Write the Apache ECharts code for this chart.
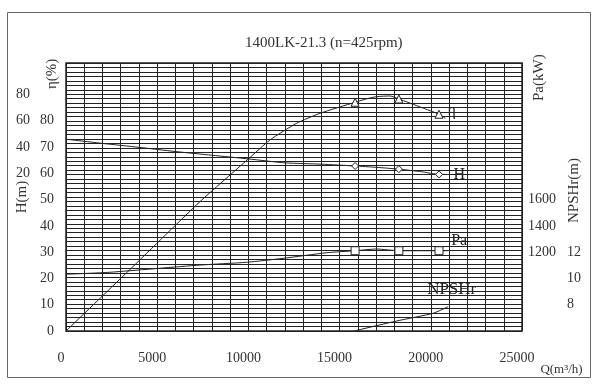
<!DOCTYPE html>
<html><head><meta charset="utf-8">
<script src="https://cdn.jsdelivr.net/npm/echarts@6/dist/echarts.min.js"></script>
<style>html,body{margin:0;padding:0;background:#fff}#c{width:600px;height:386px}</style>
</head><body><div id="c"></div>
<script>
// ---- data ----
const chartTitle = '1400LK-21.3 (n=425rpm)';
const markerQ = [15850, 18250, 20450];

const headQ = [0, 2000, 4000, 6000, 8000, 10000, 12000, 14000, 15850, 17000, 18250, 19500, 20450, 20800];
const headH = [73, 71.4, 69.9, 68.3, 66.9, 65.5, 64.0, 63.5, 62.8, 62.3, 61.6, 60.6, 59.6, 59.6];

const effQ = [0, 3670, 7340, 10000, 11180, 12640, 13920, 15850, 16500, 17030, 17760, 18250, 19500, 20450, 20800];
const effV = [-100, -51, -1.6, 31, 45.4, 58.1, 65.7, 74.1, 76.8, 78.4, 78.9, 76.6, 70.1, 65.0, 61.9];

const powQ = [0, 2400, 7340, 9900, 11900, 14300, 15850, 17030, 18250, 20450, 20900];
const powV = [1032, 1047, 1102, 1123, 1153, 1196, 1211, 1224, 1211, 1211, 1211];

const npshQ = [15850, 18120, 20130, 20950];
const npshV = [6.02, 6.76, 7.35, 7.85];

const hLabels = [0, 10, 20, 30, 40, 50, 60, 70, 80];
const etaLabels = [20, 40, 60, 80];
const paLabels = [1200, 1400, 1600];
const npLabels = [8, 10, 12];

// ---- chart ----
const FONT = 'Liberation Serif';
const INK = '#222';
const zip = (a, b) => a.map((q, i) => [q, b[i]]);
const pick = (list) => (v) => (list.indexOf(Math.round(v)) >= 0 ? String(Math.round(v)) : '');
const markSym = (shape) => (val) => (markerQ.indexOf(val[0]) >= 0 ? shape : 'none');

const chart = echarts.init(document.getElementById('c'), null, { renderer: 'canvas' });
const lbl = { fontFamily: FONT, fontSize: 14, color: '#333' };

chart.setOption({
  animation: false,
  backgroundColor: '#fff',
  title: {
    text: chartTitle, left: 240, top: 31,
    textStyle: { fontFamily: FONT, fontSize: 15, fontWeight: 'normal', color: '#333' }
  },
  grid: {
    left: 66, top: 63, right: 78, bottom: 55, containLabel: false, outerBoundsMode: 'none',
    show: true, borderColor: INK, borderWidth: 1.5, backgroundColor: 'transparent'
  },
  graphic: [
    { type: 'rect', shape: { x: 7.5, y: 12.5, width: 583, height: 365 }, style: { fill: 'none', stroke: '#666', lineWidth: 1 }, silent: true },
    { type: 'text', x: 45, y: 89, rotation: Math.PI / 2, style: { text: 'η(%)', font: '15px ' + FONT, fill: '#333' } },
    { type: 'text', x: 532, y: 101, rotation: Math.PI / 2, style: { text: 'Pa(kW)', font: '15px ' + FONT, fill: '#333' } },
    { type: 'text', x: 567, y: 223, rotation: Math.PI / 2, style: { text: 'NPSHr(m)', font: '15px ' + FONT, fill: '#333' } }
  ],
  xAxis: {
    type: 'value', min: 0, max: 25000, interval: 5000,
    axisLine: { show: false }, axisTick: { show: false },
    axisLabel: Object.assign({ margin: 20, padding: [0, 10, 0, 0], formatter: (v) => String(v) }, lbl),
    splitLine: { show: true, lineStyle: { color: INK, width: 1 } },
    minorTick: { show: false, splitNumber: 5 },
    minorSplitLine: { show: true, lineStyle: { color: INK, width: 1 } },
    name: 'Q(m³/h)', nameLocation: 'end', nameGap: 14,
    nameTextStyle: { fontFamily: FONT, fontSize: 13, color: '#333', verticalAlign: 'top', padding: [32, 0, 0, 0] }
  },
  yAxis: [
    { // H (m)
      type: 'value', min: 0, max: 102, interval: 10, position: 'left',
      axisLine: { show: false }, axisTick: { show: false }, splitLine: { show: false },
      axisLabel: Object.assign({ margin: 12, formatter: pick(hLabels), showMaxLabel: false }, lbl),
      name: 'H(m)', nameLocation: 'middle', nameGap: 36, nameRotate: 90,
      nameTextStyle: { fontFamily: FONT, fontSize: 15, color: '#333' }
    },
    { // eta (%)
      type: 'value', min: -100, max: 104, interval: 20, position: 'left',
      axisLine: { show: false }, axisTick: { show: false }, splitLine: { show: false },
      axisLabel: Object.assign({ margin: 36, formatter: pick(etaLabels), showMaxLabel: false }, lbl)
    },
    { // Pa (kW)
      type: 'value', min: 600, max: 2640, interval: 200, position: 'right',
      axisLine: { show: false }, axisTick: { show: false }, splitLine: { show: false },
      axisLabel: Object.assign({ margin: 6, formatter: pick(paLabels), showMaxLabel: false }, lbl)
    },
    { // NPSHr (m)
      type: 'value', min: 6, max: 26.4, interval: 2, position: 'right',
      axisLine: { show: false }, axisTick: { show: false }, splitLine: { show: false },
      axisLabel: Object.assign({ margin: 45, formatter: pick(npLabels), showMaxLabel: false }, lbl)
    },
    { // graph-paper rulings
      type: 'value', min: 0, max: 60, interval: 1, position: 'left',
      axisLine: { show: false }, axisTick: { show: false }, axisLabel: { show: false },
      splitLine: { show: true, lineStyle: { color: INK, width: 1 } }
    }
  ],
  series: [
    {
      name: 'η', type: 'line', yAxisIndex: 1, data: zip(effQ, effV), smooth: 0.2,
      symbol: markSym('triangle'), symbolSize: 8,
      itemStyle: { color: '#fff', borderColor: INK, borderWidth: 1 },
      lineStyle: { color: INK, width: 1 },
      endLabel: { show: true, formatter: 'η', distance: 2, offset: [0, -8], fontFamily: FONT, fontSize: 16, color: '#222' }
    },
    {
      name: 'H', type: 'line', yAxisIndex: 0, data: zip(headQ, headH), smooth: 0.2,
      symbol: markSym('diamond'), symbolSize: 7,
      itemStyle: { color: '#fff', borderColor: INK, borderWidth: 1 },
      lineStyle: { color: INK, width: 1 },
      endLabel: { show: true, formatter: 'H', distance: 8, fontFamily: FONT, fontSize: 16, color: '#222' }
    },
    {
      name: 'Pa', type: 'line', yAxisIndex: 2, data: zip(powQ, powV), smooth: 0.2,
      symbol: markSym('rect'), symbolSize: 8,
      itemStyle: { color: '#fff', borderColor: INK, borderWidth: 1 },
      lineStyle: { color: INK, width: 1 },
      endLabel: { show: true, formatter: 'Pa', distance: 4, offset: [0, -10], fontFamily: FONT, fontSize: 16, color: '#222' }
    },
    {
      name: 'NPSHr', type: 'line', yAxisIndex: 3, data: zip(npshQ, npshV), smooth: 0.2,
      symbol: 'none', lineStyle: { color: INK, width: 1 },
      endLabel: { show: true, formatter: 'NPSHr', distance: 4, offset: [-25, -17], fontFamily: FONT, fontSize: 17, color: '#222' }
    }
  ]
});
</script>
</body></html>
